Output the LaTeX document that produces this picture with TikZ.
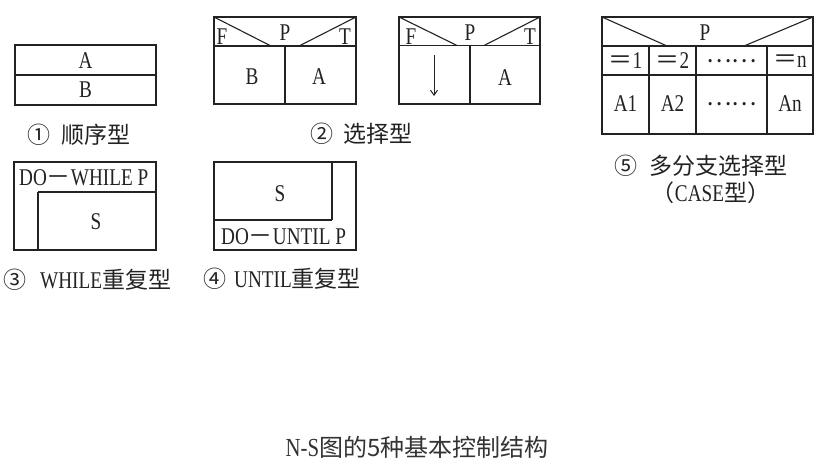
\documentclass[tikz,border=0pt]{standalone}
\usepackage{fontspec}
\setmainfont{Liberation Serif}
\newfontfamily\cjk{Noto Sans CJK SC}
\newfontfamily\nar[FakeStretch=0.8]{Liberation Serif}
\usetikzlibrary{arrows.meta}
\definecolor{ink}{HTML}{222222}
\tikzset{
  ln/.style={draw=ink, line width=1.1pt},
  lt/.style={font=\nar\fontsize{24}{24}\selectfont, text=ink, inner sep=0pt},
  lab/.style={font=\cjk\fontsize{23}{23}\selectfont, text=ink, inner sep=0pt, anchor=west},
  capt/.style={font=\cjk\fontsize{24}{24}\selectfont, text=black!80, inner sep=0pt},
}
\newcommand{\fw}[1]{{\cjk #1}}
\newcommand{\lat}[1]{{\nar\fontsize{24}{24}\selectfont #1}}
\begin{document}
\begin{tikzpicture}[x=1pt,y=-1pt]
\useasboundingbox (0,0) rectangle (834,467);
% ---------- 1 sequence
\draw[ln] (15,45) rectangle (156,105);
\draw[ln] (15,75) -- (156,75);
\node[lt] (s1a) at (85.5,61) {A};
\node[lt] (s1b) at (85.5,90) {B};
\node[lab] (l1) at (27,135) {①\hspace{11pt}顺序型};
% ---------- 2 selection
\draw[ln] (214,17) rectangle (356,104);
\draw[ln] (214,46) -- (356,46);
\draw[ln] (285,46) -- (285,104);
\draw[ln] (214,17) -- (271,46);
\draw[ln] (356,17) -- (299,46);
\node[lt] (s2f) at (222,37) {F};
\node[lt] (s2p) at (285,33) {P};
\node[lt] (s2t) at (345,37) {T};
\node[lt] (s2b) at (252,77) {B};
\node[lt] (s2a) at (319,77) {A};
\node[lab] (l2) at (310,134) {②\hspace{10pt}选择型};
% ---------- 2b selection with empty branch
\draw[ln] (399,17) rectangle (540,104);
\draw[ln] (399,45.5) -- (540,45.5);
\draw[ln] (470,45.5) -- (470,104);
\draw[ln] (399,17) -- (457,45.5);
\draw[ln] (540,17) -- (484,45.5);
\node[lt] (s3f) at (411,37) {F};
\node[lt] (s3p) at (470,33) {P};
\node[lt] (s3t) at (530,37) {T};
\coordinate (ar1) at (434,55);
\coordinate (ar2) at (434,96);
\draw[ink, line width=1pt, -{Straight Barb[length=5pt,width=7pt]}] (ar1) -- (ar2);
\node[lt] (s3a) at (505,78) {A};
% ---------- 5 case
\draw[ln] (602,17) rectangle (813,134);
\draw[ln] (602,46) -- (813,46);
\draw[ln] (602,75) -- (813,75);
\draw[ln] (649,46) -- (649,134);
\draw[ln] (696,46) -- (696,134);
\draw[ln] (767,46) -- (767,134);
\draw[ln] (602,17) -- (667,46);
\draw[ln] (813,17) -- (744,46);
\node[lt] (s5p) at (705,33) {P};
\node[lt] (c1) at (625.5,61) {\fw{＝}1};
\node[lt] (c2) at (672.5,61) {\fw{＝}2};
\node[lt] (c3) at (731.5,61) {\fw{……}};
\node[lt] (c4) at (790,61) {\fw{＝}n};
\node[lt] (d1) at (625.5,104) {A1};
\node[lt] (d2) at (672.5,104) {A2};
\node[lt] (d3) at (731.5,104) {\fw{……}};
\node[lt] (d4) at (790,104) {An};
\node[lab] (l5) at (614,166) {⑤\hspace{12pt}多分支选择型};
\node[lab, anchor=center] (l5b) at (711,193) {（\lat{CASE}型）};
% ---------- 3 while
\draw[ln] (14,162) rectangle (156,250);
\draw[ln] (38,192) -- (156,192);
\draw[ln] (38,192) -- (38,250);
\node[lt, anchor=west] (w1) at (19,178) {DO\fw{－}WHILE P};
\node[lt] (w2) at (96,222) {S};
\node[lab] (l3) at (3,280) {③\hspace{14pt}\lat{WHILE}重复型};
% ---------- 4 until
\draw[ln] (214,162) rectangle (356,250);
\draw[ln] (332,162) -- (332,220);
\draw[ln] (214,220) -- (332,220);
\node[lt] (u2) at (280,194) {S};
\node[lt, anchor=west] (u1) at (221,237) {DO\fw{－}UNTIL P};
\node[lab] (l4) at (203,279) {④\hspace{8pt}\lat{UNTIL}重复型};
% ---------- caption
\node[capt] (cap) at (417,447) {{\nar\fontsize{26}{26}\selectfont N-S}图的5种基本控制结构};
\end{tikzpicture}
\end{document}
